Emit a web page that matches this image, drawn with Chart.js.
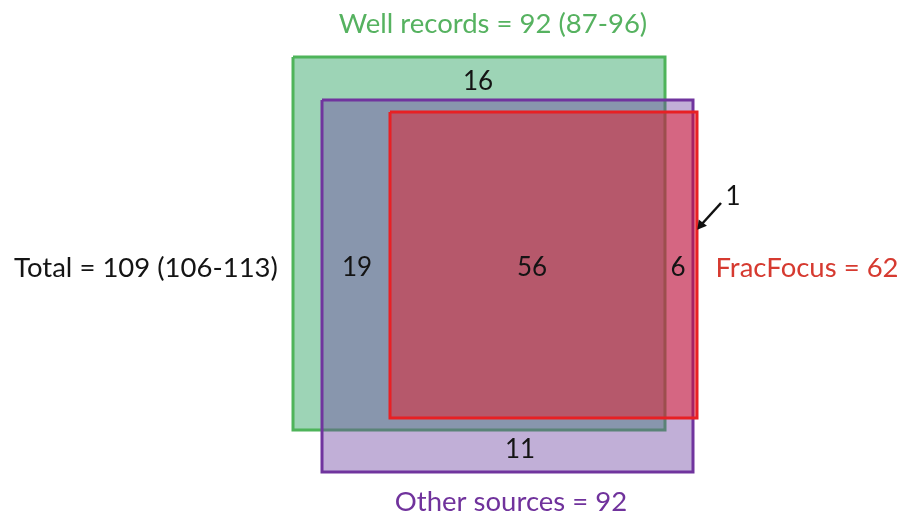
<!DOCTYPE html>
<html>
<head>
<meta charset="utf-8">
<script src="https://cdn.jsdelivr.net/npm/chart.js@4.4.1/dist/chart.umd.min.js"></script>
<style>
html,body{margin:0;padding:0;background:#fff;}
canvas{display:block;}
</style>
</head>
<body>
<canvas id="c" width="903" height="518"></canvas>
<script>
// Sets (rectangles in diagram units: left, right, top, bottom)
const setNames   = ['Well records', 'Other sources', 'FracFocus'];
const setLeft    = [293, 322, 390];
const setRight   = [665, 693, 697];
const setTop     = [57, 100, 112];
const setBottom  = [430, 472, 418];

// Region counts and their label anchor points
const regionCounts = ['16', '19', '56', '6', '11', '1'];
const regionX      = [478, 357, 532, 678, 520, 733];
const regionY      = [82, 268, 268, 268, 450, 197];

// Set titles
const titleTexts = ['Well records = 92 (87-96)', 'Total = 109 (106-113)', 'FracFocus = 62', 'Other sources = 92'];
const titleX     = [493, 146, 807, 511];
const titleY     = [24, 268, 268, 502];

// Arrow pointing at the "1" region
const arrowX = [721, 701];
const arrowY = [203, 225];

const fills   = ['rgba(60,170,110,0.5)', 'rgba(108,64,160,0.42)', 'rgba(238,14,26,0.45)'];
const borders = ['rgb(78,180,90)', 'rgb(112,52,158)', 'rgb(232,32,36)'];
const titleColors = ['rgb(86,178,96)', 'rgb(20,20,20)', 'rgb(214,58,48)', 'rgb(112,50,156)'];

function rectPts(i){
  return [
    {x:setLeft[i], y:setTop[i]},
    {x:setRight[i], y:setTop[i]},
    {x:setRight[i], y:setBottom[i]},
    {x:setLeft[i], y:setBottom[i]},
    {x:setLeft[i], y:setTop[i]}
  ];
}

const datasets = setNames.map((n,i)=>({
  label: n,
  data: rectPts(i),
  showLine: true,
  fill: 'shape',
  backgroundColor: fills[i],
  borderColor: borders[i],
  borderWidth: 3,
  borderJoinStyle: 'miter',
  tension: 0,
  pointRadius: 0,
  order: 3 - i
}));
datasets.push({
  label: 'arrow',
  data: arrowX.map((x,i)=>({x:x, y:arrowY[i]})),
  showLine: true,
  fill: false,
  borderColor: '#111',
  borderWidth: 2.5,
  pointRadius: [0, 6],
  pointStyle: 'triangle',
  rotation: 218,
  pointBackgroundColor: '#111',
  pointBorderColor: '#111',
  pointBorderWidth: 0,
  order: 0
});

const labelPlugin = {
  id: 'labels',
  afterDatasetsDraw(chart){
    const ctx = chart.ctx, xs = chart.scales.x, ys = chart.scales.y;
    ctx.save();
    ctx.textAlign = 'center';
    ctx.textBaseline = 'middle';
    ctx.font = '26px Lato, "Open Sans", sans-serif';
    regionCounts.forEach((t,i)=>{
      ctx.fillStyle = '#141414';
      ctx.fillText(t, xs.getPixelForValue(regionX[i]), ys.getPixelForValue(regionY[i]));
    });
    ctx.font = '27.5px Lato, "Open Sans", sans-serif';
    titleTexts.forEach((t,i)=>{
      ctx.fillStyle = titleColors[i];
      ctx.fillText(t, xs.getPixelForValue(titleX[i]), ys.getPixelForValue(titleY[i]));
    });
    ctx.restore();
  }
};

new Chart(document.getElementById('c'), {
  type: 'scatter',
  data: { datasets },
  options: {
    responsive: false,
    animation: false,
    devicePixelRatio: 1,
    layout: { padding: 0, autoPadding: false },
    plugins: { legend: {display:false}, tooltip: {enabled:false} },
    scales: {
      x: { type:'linear', min:0, max:903, display:false },
      y: { type:'linear', min:0, max:518, reverse:true, display:false }
    }
  },
  plugins: [labelPlugin]
});
</script>
</body>
</html>
